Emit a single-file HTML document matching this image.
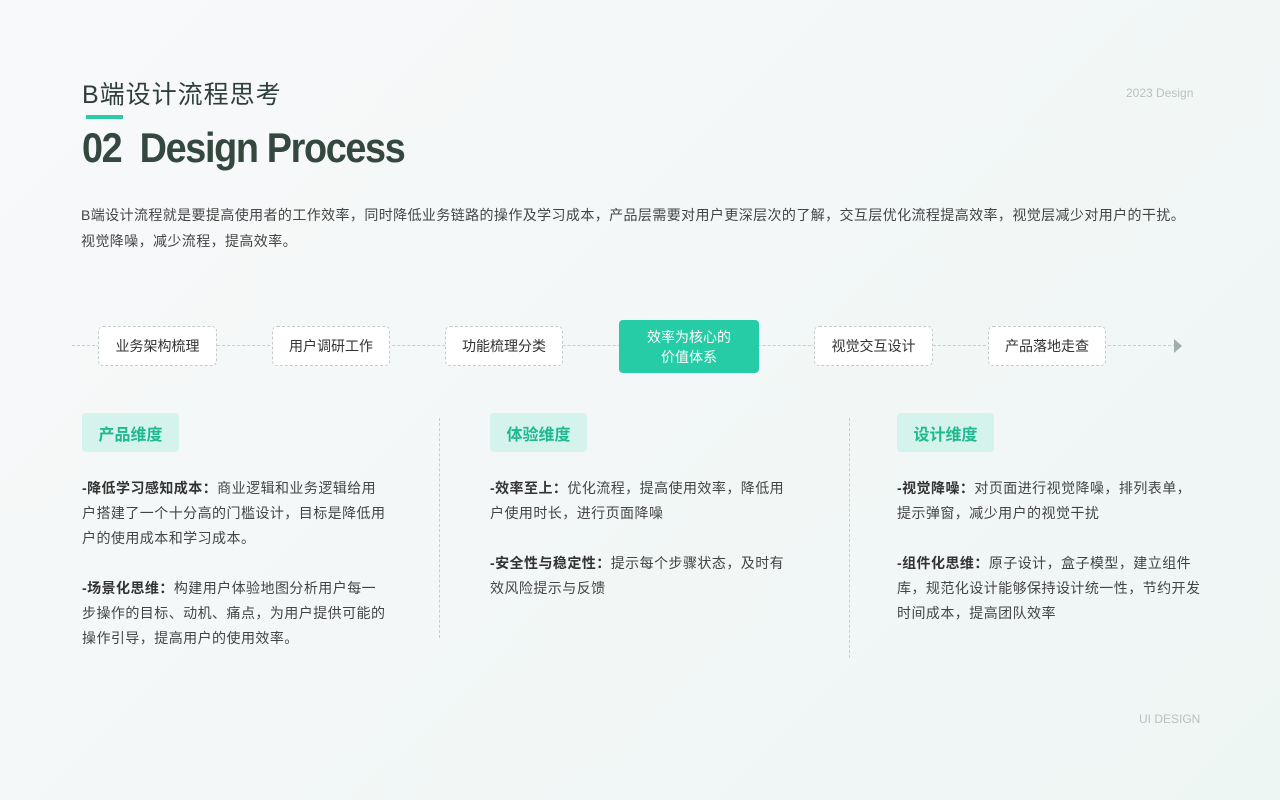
<!DOCTYPE html>
<html><head><meta charset="utf-8"><style>
*{margin:0;padding:0;box-sizing:border-box}
body{width:1280px;height:800px;overflow:hidden;background:linear-gradient(135deg,#f8f9fa 0%,#f3f7f7 50%,#eef6f4 100%);font-family:"Liberation Sans","Noto Sans CJK SC",sans-serif;position:relative;color:#444}
.a{position:absolute}
.sub{left:82px;top:75px;font-size:25px;color:#2f3f3a;letter-spacing:1px}
.bar{left:86px;top:115px;width:37px;height:4px;background:#2ccaa5}
.title{left:82px;top:124px;font-size:42px;font-weight:bold;color:#34483f;letter-spacing:-1.5px;transform:scaleX(0.9);transform-origin:left}
.desc{left:81px;top:202px;font-size:14px;line-height:26px;color:#444;width:1150px;letter-spacing:0.4px}
.yr{left:1126px;top:86px;font-size:12px;color:#b8c2c0}
.ui{left:1139px;top:712px;font-size:12px;color:#b8c2c0}
.line{top:345px;left:72px;width:1104px;border-top:1.5px dashed #c5d0cd}
.arr{left:1174px;top:339px;width:0;height:0;border-left:8px solid #9db0ab;border-top:7px solid transparent;border-bottom:7px solid transparent}
.box{top:326px;height:40px;border:1.5px dashed #c2ccc9;border-radius:5px;background:#fff;font-size:14px;color:#333;display:flex;align-items:center;justify-content:center}
.hl{left:619px;top:320px;width:140px;height:53px;background:#26cca6;border-radius:4px;color:#fff;font-size:14px;line-height:20px;text-align:center;padding-top:7px}
.chip{top:413px;height:39px;background:#d4f3ec;border-radius:4px;color:#1fb98f;font-size:16px;font-weight:bold;display:flex;align-items:center;justify-content:center;width:97px}
.col{top:476px;width:306px;font-size:14px;line-height:25px;color:#444;letter-spacing:0.45px}
.col b{color:#333}
.vl{width:0;border-left:1px dashed #c5d0cd}
</style></head><body>
<div class="a sub">B端设计流程思考</div>
<div class="a bar"></div>
<div class="a title">02&nbsp; Design Process</div>
<div class="a yr">2023 Design</div>
<div class="a desc">B端设计流程就是要提高使用者的工作效率，同时降低业务链路的操作及学习成本，产品层需要对用户更深层次的了解，交互层优化流程提高效率，视觉层减少对用户的干扰。<br>视觉降噪，减少流程，提高效率。</div>
<div class="a line"></div>
<div class="a arr"></div>
<div class="a box" style="left:98px;width:119px">业务架构梳理</div>
<div class="a box" style="left:272px;width:118px">用户调研工作</div>
<div class="a box" style="left:445px;width:118px">功能梳理分类</div>
<div class="a hl">效率为核心的<br>价值体系</div>
<div class="a box" style="left:814px;width:119px">视觉交互设计</div>
<div class="a box" style="left:988px;width:118px">产品落地走查</div>
<div class="a chip" style="left:82px">产品维度</div>
<div class="a chip" style="left:490px">体验维度</div>
<div class="a chip" style="left:897px">设计维度</div>
<div class="a vl" style="left:439px;top:418px;height:220px"></div>
<div class="a vl" style="left:849px;top:418px;height:240px"></div>
<div class="a col" style="left:82px"><b>-降低学习感知成本：</b>商业逻辑和业务逻辑给用户搭建了一个十分高的门槛设计，目标是降低用户的使用成本和学习成本。<br><br><b>-场景化思维：</b>构建用户体验地图分析用户每一步操作的目标、动机、痛点，为用户提供可能的操作引导，提高用户的使用效率。</div>
<div class="a col" style="left:490px;width:300px"><b>-效率至上：</b>优化流程，提高使用效率，降低用户使用时长，进行页面降噪<br><br><b>-安全性与稳定性：</b>提示每个步骤状态，及时有效风险提示与反馈</div>
<div class="a col" style="left:897px;width:306px"><b>-视觉降噪：</b>对页面进行视觉降噪，排列表单，<br>提示弹窗，减少用户的视觉干扰<br><br><b>-组件化思维：</b>原子设计，盒子模型，建立组件库，规范化设计能够保持设计统一性，节约开发<br>时间成本，提高团队效率</div>
<div class="a ui">UI DESIGN</div>
</body></html>
